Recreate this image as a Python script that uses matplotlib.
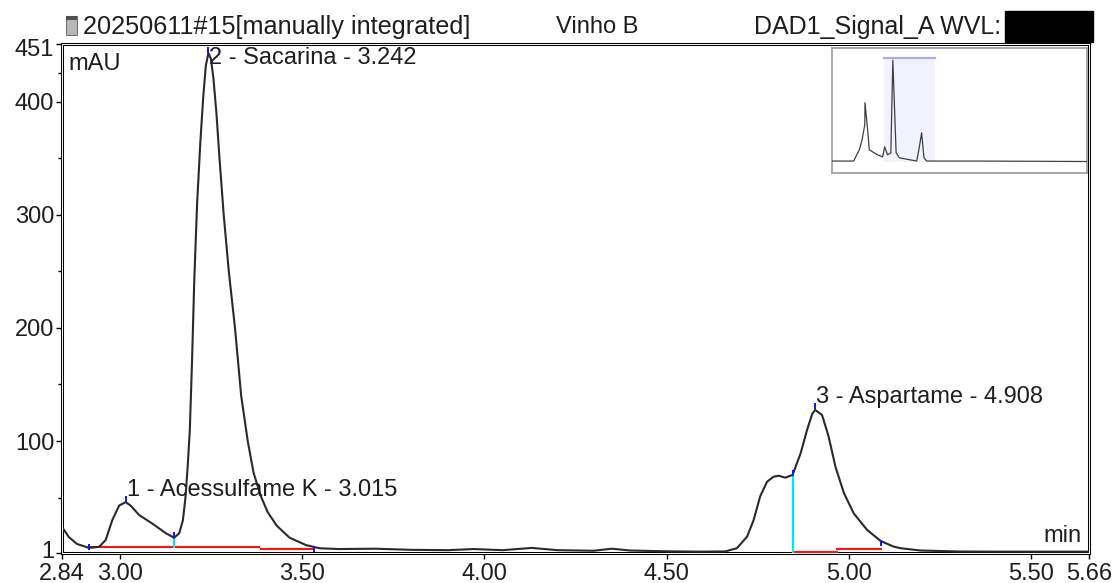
import numpy as np
import matplotlib
matplotlib.use("Agg")
import matplotlib.pyplot as plt
from matplotlib.patches import Rectangle
from matplotlib.transforms import ScaledTranslation

plt.rcParams['font.family'] = ['Liberation Sans', 'DejaVu Sans']

# chromatogram trace (min, mAU)
trace_t = [2.840, 2.859, 2.881, 2.914, 2.942, 2.960, 2.978, 2.997, 3.015, 3.028,
           3.052, 3.088, 3.125, 3.148, 3.162, 3.172, 3.179, 3.185, 3.191, 3.197,
           3.203, 3.211, 3.220, 3.228, 3.235, 3.242, 3.249, 3.256, 3.264, 3.272,
           3.284, 3.298, 3.315, 3.332, 3.350, 3.366, 3.385, 3.405, 3.430, 3.465,
           3.510, 3.547, 3.600, 3.700, 3.800, 3.900, 3.970, 4.050, 4.130, 4.200,
           4.300, 4.350, 4.400, 4.500, 4.592, 4.661, 4.693, 4.721, 4.739, 4.757,
           4.776, 4.794, 4.808, 4.826, 4.846, 4.868, 4.886, 4.900, 4.908, 4.927,
           4.945, 4.964, 4.987, 5.014, 5.051, 5.088, 5.124, 5.143, 5.198, 5.308,
           5.418, 5.660]
trace_mau = [24, 15, 9, 5.5, 6.5, 12.5, 30, 43, 46, 43,
             34.5, 27, 18.5, 14.5, 18.5, 30, 50, 77, 110, 170,
             240, 310, 365, 405, 432, 443, 438, 420, 390, 352,
             300, 250, 200, 140, 100, 72, 52, 37, 25, 14.5,
             8, 5.2, 4.5, 4.8, 3.8, 3.5, 4.5, 3.5, 5.5, 3.5,
             3.0, 4.8, 3.2, 2.5, 2.2, 2.4, 5.2, 15.4, 30, 51,
             64, 68.5, 69.3, 67.6, 70, 89, 110, 124, 127.5, 123,
             104, 77, 54, 36, 21.3, 11.6, 6.6, 5.2, 3.2, 2.3,
             2.2, 2.2]

# integration baselines (red) as (t_start, t_end, mAU)
base_segments = [(2.914, 3.380, 6.6), (3.386, 3.533, 4.5),
                 (4.846, 4.969, 2.3), (4.969, 5.088, 4.5)]
# peak drop lines (cyan): (t, bottom, top)
drop_lines = [(3.148, 6.6, 14.5), (4.846, 2.3, 70)]
# blue delimiter / apex marks
mark_t = [2.914, 3.015, 3.148, 3.242, 3.533, 4.846, 4.908, 5.088]
mark_mau = [6.0, 49, 17, 446, 4.8, 72, 131, 10]

peak_t = [3.018, 3.245, 4.911]
label_mau = [56.7, 438.7, 138.9]
peak_names = ["1 - Acessulfame K - 3.015", "2 - Sacarina - 3.242", "3 - Aspartame - 4.908"]

xticks = [2.84, 3.00, 3.50, 4.00, 4.50, 5.00, 5.50, 5.66]
xtick_labels = ["2.84", "3.00", "3.50", "4.00", "4.50", "5.00", "5.50", "5.66"]
yticks = [1, 100, 200, 300, 400, 451]

# overview trace of the whole run for the small inset
over_t = [0.0, 1.2, 1.25, 1.50, 1.65, 1.80, 1.81, 1.92, 2.05, 2.50, 2.78, 2.89, 3.05, 3.23,
          3.34, 3.52, 3.70, 4.65, 4.77, 4.92, 5.05, 5.20, 8.0, 14.0]
over_mau = [4, 4, 14, 53, 96, 162, 258, 171, 53, 31, 22, 66, 31, 40,
            443, 40, 18, 4, 53, 127, 18, 4, 4, 2]

TXT = '#1e1e1e'
FS = 17

fig = plt.figure(figsize=(11.17, 5.83), dpi=100)
ax = fig.add_axes([62 / 1117, 30 / 583, 1027 / 1117, 509 / 583])

ax.plot(trace_t, trace_mau, color='#2a2a2a', lw=1.5, zorder=4, solid_joinstyle='round')
for t0, t1, v in base_segments:
    ax.plot([t0, t1], [v, v], color='#ff1010', lw=1.5, zorder=3)
for t, v0, v1 in drop_lines:
    ax.plot([t, t], [v0, v1], color='#00e8f0', lw=1.5, zorder=3)
ax.plot(mark_t, mark_mau, ls='none', marker='|', ms=5, mew=1.4, color='#1010ff', zorder=5)

for t, v, name in zip(peak_t, label_mau, peak_names):
    ax.text(t, v, name, fontsize=FS, color=TXT, ha='left', va='center', zorder=6)

ax.set_xlim(2.84, 5.66)
ax.set_ylim(1, 451)
ax.set_xticks(xticks)
ax.set_xticklabels(xtick_labels)
ax.set_yticks(yticks)
ax.set_yticks([50, 150, 250, 350, 425], minor=True)
ax.tick_params(axis='both', which='major', direction='out', length=4, width=1,
               labelsize=FS, labelcolor=TXT, pad=1.5)
ax.tick_params(axis='x', which='major', pad=3)
ax.tick_params(axis='y', which='minor', direction='out', length=3, width=1)

# end labels sit a little inside, like the original software draws them
ylabs = ax.get_yticklabels()
ylabs[0].set_transform(ylabs[0].get_transform() + ScaledTranslation(0, 3 / 100, fig.dpi_scale_trans))
ylabs[-1].set_transform(ylabs[-1].get_transform() + ScaledTranslation(0, -3 / 100, fig.dpi_scale_trans))

for s in ax.spines.values():
    s.set_linewidth(2.2)
    s.set_color('black')
# white centre line over the spines gives the double frame
ax.add_patch(Rectangle((0, 0), 1, 1, transform=ax.transAxes, fill=False,
                       ec='white', lw=0.7, clip_on=False, zorder=7))

ax.text(0.006, 0.983, "mAU", transform=ax.transAxes, fontsize=FS, color=TXT,
        ha='left', va='top')
ax.text(0.993, 0.012, "min", transform=ax.transAxes, fontsize=FS, color=TXT,
        ha='right', va='bottom')

# header line
hy = 1 - 27 / 583
fig.text(83 / 1117, hy, "20250611#15[manually integrated]", fontsize=18.2,
         color=TXT, ha='left', va='center')
fig.text(556 / 1117, hy, "Vinho B", fontsize=17, color=TXT, ha='left', va='center')
fig.text(754 / 1117, hy, "DAD1_Signal_A WVL:", fontsize=18, color=TXT,
         ha='left', va='center')
fig.patches.append(Rectangle((1005 / 1117, 1 - 42 / 583), 88 / 1117, 31 / 583,
                             transform=fig.transFigure, color='black', zorder=5))
# small vial icon
fig.patches.append(Rectangle((66 / 1117, 1 - 35 / 583), 11 / 1117, 19 / 583,
                             transform=fig.transFigure, fc='#b8b8b8', ec='#707070', lw=0.8))
fig.patches.append(Rectangle((66 / 1117, 1 - 20 / 583), 11 / 1117, 4 / 583,
                             transform=fig.transFigure, fc='#505050', ec='none'))

# overview inset
axi = fig.add_axes([832 / 1117, 1 - 173 / 583, 255 / 1117, 125 / 583])
axi.add_patch(Rectangle((2.84, 0), 5.66 - 2.84, 451, fc='#f2f2ff', ec='none', zorder=1))
axi.plot([2.84, 5.66], [451, 451], color='#a8a8ff', lw=1.5, zorder=2)
axi.plot(over_t, over_mau, color='#404040', lw=0.9, zorder=3)
axi.set_xlim(0, 14)
axi.set_ylim(-48, 496)
axi.set_xticks([])
axi.set_yticks([])
for s in axi.spines.values():
    s.set_color('#9a9a9a')
    s.set_linewidth(1.2)

fig.savefig('out.png', dpi=100)
